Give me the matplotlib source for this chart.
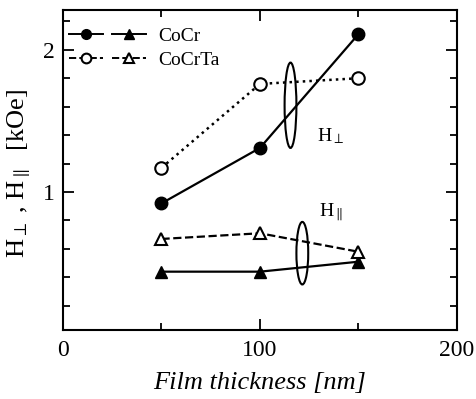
import matplotlib
matplotlib.use("Agg")
import matplotlib.pyplot as plt
from matplotlib.patches import Ellipse
from matplotlib.legend_handler import HandlerTuple
from matplotlib.ticker import MultipleLocator

# film thickness [nm]
thickness = [50, 100, 150]

# coercivity [kOe]
cocr_perp = [0.92, 1.31, 2.11]
cocr_par = [0.44, 0.44, 0.51]
cocrta_perp = [1.17, 1.76, 1.80]
cocrta_par = [0.67, 0.71, 0.58]

plt.rcParams['font.family'] = ['Liberation Serif', 'DejaVu Serif']
plt.rcParams['mathtext.fontset'] = 'stix'

fig = plt.figure(figsize=(4.77, 3.99), dpi=100)
ax = fig.add_axes([0.132, 0.173, 0.826, 0.802])

l1, = ax.plot(thickness, cocr_perp, '-', color='black', lw=1.6,
              marker='o', ms=9, mfc='black')
l2, = ax.plot(thickness, cocr_par, '-', color='black', lw=1.6,
              marker='^', ms=9, mfc='black')
l3, = ax.plot(thickness, cocrta_perp, ':', color='black', lw=1.8,
              marker='o', ms=9, mfc='white', mew=1.5)
l4, = ax.plot(thickness, cocrta_par, '--', color='black', lw=1.6,
              marker='^', ms=9, mfc='white', mew=1.5)

# loops grouping the curves
ax.add_patch(Ellipse((115.5, 1.61), 6, 0.60, fill=False, lw=1.5, color='black'))
ax.add_patch(Ellipse((121.5, 0.57), 6, 0.44, fill=False, lw=1.5, color='black'))
ax.text(129, 1.39, r'H$_{\perp}$', fontsize=14, va='center')
ax.text(130, 0.86, r'H$_{\parallel}$', fontsize=14, va='center')

# legend handles use dashed lines for CoCrTa
h1, = ax.plot([], [], '-', color='black', lw=1.4, marker='o', ms=7, mfc='black')
h2, = ax.plot([], [], '-', color='black', lw=1.4, marker='^', ms=7, mfc='black')
h3, = ax.plot([], [], '--', color='black', lw=1.4, marker='o', ms=7, mfc='white', mew=1.5)
h4, = ax.plot([], [], '--', color='black', lw=1.4, marker='^', ms=7, mfc='white', mew=1.5)
ax.legend([(h1, h2), (h3, h4)], ['CoCr', 'CoCrTa'],
          handler_map={tuple: HandlerTuple(ndivide=None, pad=0.5)},
          loc='upper left', bbox_to_anchor=(-0.03, 1.0), frameon=False,
          fontsize=14, handlelength=4.0, handletextpad=0.6, labelspacing=0.3)

ax.set_xlim(0, 200)
ax.set_ylim(0.03, 2.28)
ax.xaxis.set_major_locator(MultipleLocator(100))
ax.xaxis.set_minor_locator(MultipleLocator(50))
ax.yaxis.set_major_locator(MultipleLocator(1))
ax.yaxis.set_minor_locator(MultipleLocator(0.2))
ax.tick_params(which='both', direction='in', top=True, right=True, labelsize=17, width=1.3)
ax.tick_params(which='major', length=8)
ax.tick_params(which='minor', length=5)
ax.tick_params(axis='x', pad=7)
ax.tick_params(axis='y', pad=6)
for s in ax.spines.values():
    s.set_linewidth(1.5)

ax.set_xlabel('Film thickness [nm]', fontsize=19, style='italic', labelpad=8)
ax.set_ylabel(r'H$_{\perp}$ , H$_{\parallel}$  [kOe]', fontsize=19)
ax.yaxis.set_label_coords(-0.075, 0.49)

fig.savefig('out.png', dpi=100)
